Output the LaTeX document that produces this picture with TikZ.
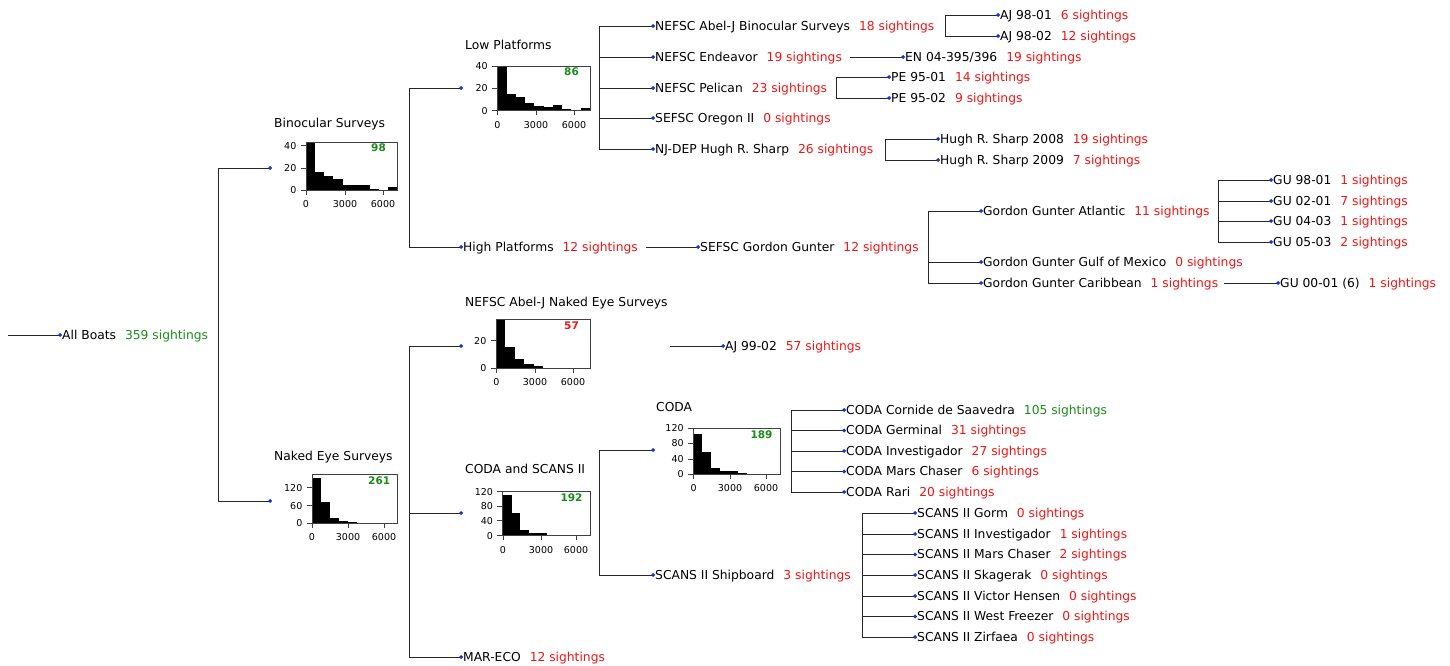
\documentclass[tikz,border=0pt]{standalone}
\usepackage{fontspec}
\setmainfont{DejaVu Sans}
\usetikzlibrary{arrows.meta}
\definecolor{sred}{RGB}{240,20,20}
\definecolor{sgreen}{RGB}{25,140,25}
\definecolor{dotblue}{RGB}{20,50,220}
\newcommand{\lbl}{\fontsize{12.3}{14}\selectfont}
\newcommand{\sight}[2][sred]{\hspace{9pt}\textcolor{#1}{#2 sightings}}
\tikzset{
wire/.style={draw=black!85, line width=0.9pt}, % tree lines
feed/.style={wire, -{Circle[length=3.8pt, color=dotblue]}}, % line ending in a blue dot
boat/.style={anchor=west, inner sep=0pt, text height=8.97pt, text depth=0pt, font=\lbl},
boxline/.style={draw=black!75, line width=1pt},
ticklab/.style={inner sep=0pt, text height=6.9pt, text depth=0pt, font=\fontsize{9.5}{10}\selectfont},
countlab/.style={inner sep=0pt, text height=7.6pt, text depth=0pt, font=\fontsize{10.5}{12}\selectfont\bfseries},
}
% #1 left, #2 top, #3 right, #4 bottom, #5 bin width, #6 bar heights,
% #7 y ticks, #8 x ticks, #9 count
\newcommand{\histo}[9]{%
  \foreach \h [count=\i from 0] in {#6}
    \fill[black] ({#1+\i*#5},#4) rectangle ({#1+(\i+1)*#5},{#4-\h});
  \draw[boxline] (#1,#2) rectangle (#3,#4);
  \foreach \p/\l in {#7} {
    \draw[boxline] ({#1-5.5},\p) -- (#1,\p);
    \node[ticklab, anchor=east] at ({#1-9.5},\p) {\l};
  }
  \foreach \p/\l in {#8} {
    \draw[boxline] (\p,#4) -- (\p,{#4+4.5});
    \node[ticklab] at (\p,{#4+14}) {\l};
  }
  \node[countlab] at ({#3-18.5},{#2+6}) {#9};
}

\begin{document}
\begin{tikzpicture}[x=1pt, y=-1pt]
\useasboundingbox (0,0) rectangle (1450,665);

% root
\coordinate (start) at (8,335);
\node[boat] (all) at (62,335) {All Boats\sight[sgreen]{359}};

% histogram nodes
\coordinate (binoc) at (272,168);
\node[boat] (binoc-t) at (274,123) {Binocular Surveys};
\histo{306}{142}{397}{190}{9.13}{48,18.3,13.7,10.7,5.3,5.3,5.3,1,0.4,3}
  {145.7/40,168.3/20,190/0}{306/0,345/3000,383/6000}{\textcolor{sgreen}{98}}

\coordinate (naked) at (272,501);
\node[boat] (naked-t) at (274,456) {Naked Eye Surveys};
\histo{312}{474.3}{397.7}{523.3}{9}{45,21.7,5.7,2.3,1.3,0.7}
  {487.7/120,505.7/60,523.3/0}{312/0,348/3000,384/6000}{\textcolor{sgreen}{261}}

\coordinate (lowp) at (463,88);
\node[boat] (lowp-t) at (465,45) {Low Platforms};
\histo{497.3}{66}{590}{110.7}{9.27}{44.7,16.7,13.3,7.3,5,4,6,1.3,0.3,3}
  {66/40,88.3/20,110.7/0}{497.3/0,536/3000,574/6000}{\textcolor{sgreen}{86}}

\coordinate (abjn) at (463,346);
\node[boat] (abjn-t) at (465,302) {NEFSC Abel-J Naked Eye Surveys};
\histo{496}{319.3}{590}{368}{9.4}{48.7,20.7,9,3.7,1.7}
  {340.7/20,368/0}{496.5/0,535/3000,573/6000}{\textcolor{sred}{57}}

\coordinate (codascans) at (463,513);
\node[boat] (codascans-t) at (465,469) {CODA and SCANS II};
\histo{502.7}{491.7}{590}{535.7}{8.83}{40.7,22.3,5.3,3,3,1}
  {491.7/120,506/80,520.7/40,535.7/0}{503/0,541/3000,576/6000}{\textcolor{sgreen}{192}}

\coordinate (coda) at (655,450);
\node[boat] (coda-t) at (656,407) {CODA};
\histo{693.3}{428.3}{780}{474}{8.9}{40,22.3,5.7,3.3,3.3,1.3}
  {428.3/120,443.3/80,459/40,474/0}{693.7/0,730/3000,766/6000}{\textcolor{sgreen}{189}}

% text nodes
\node[boat] (highp) at (463,247) {High Platforms\sight{12}};
\node[boat] (mareco) at (463,657) {MAR-ECO\sight{12}};

\node[boat] (abjb) at (655,26) {NEFSC Abel-J Binocular Surveys\sight{18}};
\node[boat] (endv) at (655,57) {NEFSC Endeavor\sight{19}};
\node[boat] (pelc) at (655,88) {NEFSC Pelican\sight{23}};
\node[boat] (oreg) at (655,118) {SEFSC Oregon II\sight{0}};
\node[boat] (hrs) at (655,149) {NJ-DEP Hugh R. Sharp\sight{26}};

\node[boat] (aj9801) at (1000,15) {AJ 98-01\sight{6}};
\node[boat] (aj9802) at (1000,36) {AJ 98-02\sight{12}};
\node[boat] (en04) at (905,57) {EN 04-395/396\sight{19}};
\node[boat] (pe9501) at (891,77) {PE 95-01\sight{14}};
\node[boat] (pe9502) at (891,98) {PE 95-02\sight{9}};
\node[boat] (hrs08) at (940,139) {Hugh R. Sharp 2008\sight{19}};
\node[boat] (hrs09) at (940,160) {Hugh R. Sharp 2009\sight{7}};

\node[boat] (sefgg) at (700,247) {SEFSC Gordon Gunter\sight{12}};
\node[boat] (ggatl) at (983,211) {Gordon Gunter Atlantic\sight{11}};
\node[boat] (gggom) at (983,262) {Gordon Gunter Gulf of Mexico\sight{0}};
\node[boat] (ggcar) at (983,283) {Gordon Gunter Caribbean\sight{1}};
\node[boat] (gu9801) at (1273,180) {GU 98-01\sight{1}};
\node[boat] (gu0201) at (1273,201) {GU 02-01\sight{7}};
\node[boat] (gu0403) at (1273,221) {GU 04-03\sight{1}};
\node[boat] (gu0503) at (1273,242) {GU 05-03\sight{2}};
\node[boat] (gu0001) at (1280,283) {GU 00-01 (6)\sight{1}};

\node[boat] (aj9902) at (725,346) {AJ 99-02\sight{57}};

\node[boat] (scans) at (655,575) {SCANS II Shipboard\sight{3}};
\node[boat] (cCornide) at (846,410) {CODA Cornide de Saavedra\sight[sgreen]{105}};
\node[boat] (cGerminal) at (846,430.5) {CODA Germinal\sight{31}};
\node[boat] (cInvest) at (846,451) {CODA Investigador\sight{27}};
\node[boat] (cMars) at (846,471.5) {CODA Mars Chaser\sight{6}};
\node[boat] (cRari) at (846,492) {CODA Rari\sight{20}};

\node[boat] (sGorm) at (917,513) {SCANS II Gorm\sight{0}};
\node[boat] (sInvest) at (917,534) {SCANS II Investigador\sight{1}};
\node[boat] (sMars) at (917,554.5) {SCANS II Mars Chaser\sight{2}};
\node[boat] (sSkag) at (917,575) {SCANS II Skagerak\sight{0}};
\node[boat] (sVictor) at (917,596) {SCANS II Victor Hensen\sight{0}};
\node[boat] (sWest) at (917,616.5) {SCANS II West Freezer\sight{0}};
\node[boat] (sZirf) at (917,637) {SCANS II Zirfaea\sight{0}};

% bus positions
\coordinate (b-all) at (218,0);
\coordinate (b-binoc) at (409,0);
\coordinate (b-naked) at (409,0);
\coordinate (b-lowp) at (599,0);
\coordinate (b-abjb) at (945,0);
\coordinate (b-endv) at (850,0);
\coordinate (b-pelc) at (836,0);
\coordinate (b-hrs) at (885,0);
\coordinate (b-highp) at (646,0);
\coordinate (b-sefgg) at (928,0);
\coordinate (b-ggatl) at (1218,0);
\coordinate (b-ggcar) at (1224,0);
\coordinate (b-abjn) at (670,0);
\coordinate (b-codascans) at (599,0);
\coordinate (b-coda) at (791,0);
\coordinate (b-scans) at (862,0);

% connectors
\draw[feed] (start) -- (all.west);

\draw[wire] (binoc -| b-all) -- (naked -| b-all);
\draw[feed] (binoc -| b-all) -- (binoc);
\draw[feed] (naked -| b-all) -- (naked);

\draw[wire] (lowp -| b-binoc) -- (highp.west -| b-binoc);
\draw[feed] (lowp -| b-binoc) -- (lowp);
\draw[feed] (highp.west -| b-binoc) -- (highp.west);

\draw[wire] (abjn -| b-naked) -- (mareco.west -| b-naked);
\draw[feed] (abjn -| b-naked) -- (abjn);
\draw[feed] (codascans -| b-naked) -- (codascans);
\draw[feed] (mareco.west -| b-naked) -- (mareco.west);

\draw[wire] (abjb.west -| b-lowp) -- (hrs.west -| b-lowp);
\foreach \c in {abjb,endv,pelc,oreg,hrs}
  \draw[feed] (\c.west -| b-lowp) -- (\c.west);

\draw[wire] (aj9801.west -| b-abjb) -- (aj9802.west -| b-abjb);
\draw[feed] (aj9801.west -| b-abjb) -- (aj9801.west);
\draw[feed] (aj9802.west -| b-abjb) -- (aj9802.west);

\draw[feed] (en04.west -| b-endv) -- (en04.west);

\draw[wire] (pe9501.west -| b-pelc) -- (pe9502.west -| b-pelc);
\draw[feed] (pe9501.west -| b-pelc) -- (pe9501.west);
\draw[feed] (pe9502.west -| b-pelc) -- (pe9502.west);

\draw[wire] (hrs08.west -| b-hrs) -- (hrs09.west -| b-hrs);
\draw[feed] (hrs08.west -| b-hrs) -- (hrs08.west);
\draw[feed] (hrs09.west -| b-hrs) -- (hrs09.west);

\draw[feed] (sefgg.west -| b-highp) -- (sefgg.west);

\draw[wire] (ggatl.west -| b-sefgg) -- (ggcar.west -| b-sefgg);
\foreach \c in {ggatl,gggom,ggcar}
  \draw[feed] (\c.west -| b-sefgg) -- (\c.west);

\draw[wire] (gu9801.west -| b-ggatl) -- (gu0503.west -| b-ggatl);
\foreach \c in {gu9801,gu0201,gu0403,gu0503}
  \draw[feed] (\c.west -| b-ggatl) -- (\c.west);

\draw[feed] (gu0001.west -| b-ggcar) -- (gu0001.west);

\draw[feed] (aj9902.west -| b-abjn) -- (aj9902.west);

\draw[wire] (coda -| b-codascans) -- (scans.west -| b-codascans);
\draw[feed] (coda -| b-codascans) -- (coda);
\draw[feed] (scans.west -| b-codascans) -- (scans.west);

\draw[wire] (cCornide.west -| b-coda) -- (cRari.west -| b-coda);
\foreach \c in {cCornide,cGerminal,cInvest,cMars,cRari}
  \draw[feed] (\c.west -| b-coda) -- (\c.west);

\draw[wire] (sGorm.west -| b-scans) -- (sZirf.west -| b-scans);
\foreach \c in {sGorm,sInvest,sMars,sSkag,sVictor,sWest,sZirf}
  \draw[feed] (\c.west -| b-scans) -- (\c.west);
\end{tikzpicture}
\end{document}
